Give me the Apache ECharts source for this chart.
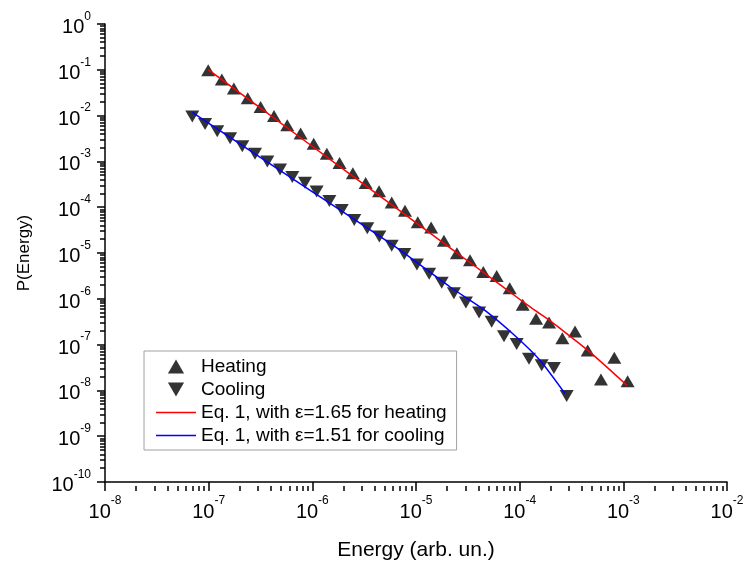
<!DOCTYPE html>
<html>
<head>
<meta charset="utf-8">
<script src="https://cdn.jsdelivr.net/npm/echarts@6/dist/echarts.min.js"></script>
<style>
  html, body { margin: 0; padding: 0; background: #fff; }
  #chart { width: 748px; height: 566px; }
</style>
</head>
<body>
<div id="chart"></div>
<script>
// measured points (energy, probability)
const heatingX = [9.9e-8, 1.34e-7, 1.75e-7, 2.38e-7, 3.17e-7, 4.27e-7, 5.73e-7, 7.71e-7, 1.03e-6, 1.38e-6,
  1.83e-6, 2.46e-6, 3.27e-6, 4.40e-6, 5.83e-6, 7.83e-6, 1.04e-5, 1.40e-5, 1.86e-5, 2.48e-5,
  3.32e-5, 4.46e-5, 6.0e-5, 8.02e-5, 1.07e-4, 1.44e-4, 1.92e-4, 2.58e-4, 3.42e-4, 4.53e-4,
  6.08e-4, 8.18e-4, 1.10e-3];
const heatingY = [9.75e-2, 6.14e-2, 3.92e-2, 2.38e-2, 1.54e-2, 9.86e-3, 6.19e-3, 4.06e-3, 2.44e-3, 1.46e-3,
  9.23e-4, 5.50e-4, 3.39e-4, 2.23e-4, 1.27e-4, 8.39e-5, 4.69e-5, 3.60e-5, 1.85e-5, 9.91e-6,
  6.98e-6, 3.84e-6, 3.13e-6, 1.69e-6, 7.38e-7, 3.67e-7, 3.05e-7, 1.38e-7, 1.92e-7, 7.45e-8,
  1.72e-8, 5.15e-8, 1.59e-8];
const coolingX = [6.95e-8, 9.23e-8, 1.21e-7, 1.61e-7, 2.11e-7, 2.80e-7, 3.68e-7, 4.88e-7, 6.41e-7, 8.49e-7,
  1.10e-6, 1.46e-6, 1.92e-6, 2.54e-6, 3.39e-6, 4.43e-6, 5.83e-6, 7.71e-6, 1.02e-5, 1.34e-5,
  1.77e-5, 2.32e-5, 3.03e-5, 4.06e-5, 5.37e-5, 7.06e-5, 9.35e-5, 1.23e-4, 1.63e-4, 2.14e-4,
  2.84e-4];
const coolingY = [9.57e-3, 6.52e-3, 4.53e-3, 3.19e-3, 2.14e-3, 1.46e-3, 9.95e-4, 6.68e-4, 4.57e-4, 3.40e-4,
  2.20e-4, 1.36e-4, 8.65e-5, 5.26e-5, 3.48e-5, 2.30e-5, 1.44e-5, 9.51e-6, 5.58e-6, 3.51e-6,
  2.24e-6, 1.33e-6, 8.28e-7, 5.02e-7, 3.16e-7, 1.52e-7, 1.035e-7, 4.90e-8, 3.53e-8, 3.08e-8,
  7.53e-9];

// fitted curves (Eq. 1)
const heatFitX = [9.9e-8, 7.60e-7, 7.01e-6, 2.13e-5, 6.46e-5, 1.35e-4, 1.96e-4, 3.06e-4, 4.77e-4, 1.08e-3];
const heatFitY = [0.101, 3.37e-3, 8.28e-5, 1.30e-5, 2.03e-6, 5.93e-7, 3.33e-7, 1.52e-7, 6.84e-8, 1.30e-8];
const coolFitX = [6.95e-8, 7.60e-7, 7.01e-6, 2.13e-5, 4.46e-5, 9.35e-5, 1.57e-4, 2.73e-4];
const coolFitY = [1.17e-2, 3.27e-4, 1.16e-5, 1.81e-6, 5.93e-7, 1.45e-7, 4.53e-8, 8.57e-9];

// axis decades (exponents)
const xTickExps = [-8, -7, -6, -5, -4, -3, -2];
const yTickExps = [-10, -9, -8, -7, -6, -5, -4, -3, -2, -1, 0];

const seriesNames = [
  'Heating',
  'Cooling',
  'Eq. 1, with \u03b5=1.65 for heating',
  'Eq. 1, with \u03b5=1.51 for cooling'
];

const FONT = '"Liberation Sans", Arial, sans-serif';
const UP_TRI = 'path://M1,0L2,1.732L0,1.732Z';
const DOWN_TRI = 'path://M0,0L2,0L1,1.732Z';
const LINE_ICON = 'path://M0,0H40V1.5H0Z';

const GRID = { left: 105, right: 21, top: 24, bottom: 80 };
const plotHeight = 566 - GRID.top - GRID.bottom;

const zip = (xs, ys) => xs.map((x, i) => [x, ys[i]]);
const decades = exps => exps.map(e => Math.pow(10, e));
const minors = exps => {
  const out = [];
  for (let i = 0; i < exps.length - 1; i++) {
    for (let m = 2; m <= 9; m++) out.push(m * Math.pow(10, exps[i]));
  }
  return out;
};

const powLabel = v => '{b|10}{s|' + Math.round(Math.log10(v)) + '}';
const labelRich = {
  b: { fontSize: 20, fontFamily: FONT, color: '#000', lineHeight: 27, verticalAlign: 'bottom' },
  s: { fontSize: 12, fontFamily: FONT, color: '#000', lineHeight: 14, verticalAlign: 'top' }
};

const tickStyle = { color: '#000', width: 1.5 };

const chart = echarts.init(document.getElementById('chart'));

const option = {
  animation: false,
  backgroundColor: '#fff',
  textStyle: { fontFamily: FONT },
  grid: GRID,
  legend: {
    orient: 'vertical',
    left: 144,
    top: 351,
    padding: [6, 10, 5, 12],
    itemWidth: 40,
    itemHeight: 14,
    itemGap: 4,
    borderColor: '#a0a0a0',
    borderWidth: 1,
    textStyle: { fontSize: 19, color: '#000', fontFamily: FONT },
    data: [
      { name: seriesNames[0], icon: UP_TRI },
      { name: seriesNames[1], icon: DOWN_TRI },
      { name: seriesNames[2], icon: LINE_ICON },
      { name: seriesNames[3], icon: LINE_ICON }
    ]
  },
  xAxis: [
    {
      type: 'log',
      logBase: 10,
      min: 1e-8,
      max: 1e-2,
      position: 'bottom',
      splitLine: { show: false },
      axisLine: { show: true, lineStyle: tickStyle },
      name: 'Energy (arb. un.)',
      nameLocation: 'middle',
      nameGap: 58,
      nameTextStyle: { fontSize: 21, color: '#000', fontFamily: FONT },
      axisTick: { show: true, inside: false, length: 9, customValues: decades(xTickExps), lineStyle: tickStyle },
      axisLabel: { margin: 13, customValues: decades(xTickExps), formatter: powLabel, rich: labelRich }
    },
    {
      // minor ticks: a second axis moved down onto the bottom edge, ticks pointing out
      type: 'log',
      logBase: 10,
      min: 1e-8,
      max: 1e-2,
      position: 'top',
      offset: -plotHeight,
      splitLine: { show: false },
      axisLine: { show: false },
      axisLabel: { show: false },
      axisTick: { show: true, inside: true, length: 5, customValues: minors(xTickExps), lineStyle: tickStyle }
    }
  ],
  yAxis: [
    {
      type: 'log',
      logBase: 10,
      min: 1e-10,
      max: 1,
      position: 'left',
      splitLine: { show: false },
      axisLine: { show: true, lineStyle: tickStyle },
      name: 'P(Energy)',
      nameLocation: 'middle',
      nameGap: 72,
      nameTextStyle: { fontSize: 17, color: '#000', fontFamily: FONT },
      axisTick: { show: true, inside: false, length: 8, customValues: decades(yTickExps), lineStyle: tickStyle },
      axisLabel: { margin: 14, customValues: decades(yTickExps), formatter: powLabel, rich: labelRich }
    },
    {
      type: 'log',
      logBase: 10,
      min: 1e-10,
      max: 1,
      position: 'left',
      splitLine: { show: false },
      axisLine: { show: false },
      axisLabel: { show: false },
      axisTick: { show: true, inside: false, length: 5, customValues: minors(yTickExps), lineStyle: tickStyle }
    }
  ],
  series: [
    {
      name: seriesNames[0],
      type: 'scatter',
      symbol: UP_TRI,
      symbolSize: [14, 12],
      itemStyle: { color: '#000' },
      z: 2,
      data: zip(heatingX, heatingY)
    },
    {
      name: seriesNames[1],
      type: 'scatter',
      symbol: DOWN_TRI,
      symbolSize: [14, 12],
      itemStyle: { color: '#000' },
      z: 2,
      data: zip(coolingX, coolingY)
    },
    {
      name: seriesNames[2],
      type: 'line',
      showSymbol: false,
      smooth: 0.2,
      lineStyle: { color: '#ff0000', width: 1.5 },
      itemStyle: { color: '#ff0000' },
      z: 3,
      data: zip(heatFitX, heatFitY)
    },
    {
      name: seriesNames[3],
      type: 'line',
      showSymbol: false,
      smooth: 0.2,
      lineStyle: { color: '#0000ff', width: 1.5 },
      itemStyle: { color: '#0000ff' },
      z: 3,
      data: zip(coolFitX, coolFitY)
    }
  ]
};

chart.setOption(option);
</script>
</body>
</html>
